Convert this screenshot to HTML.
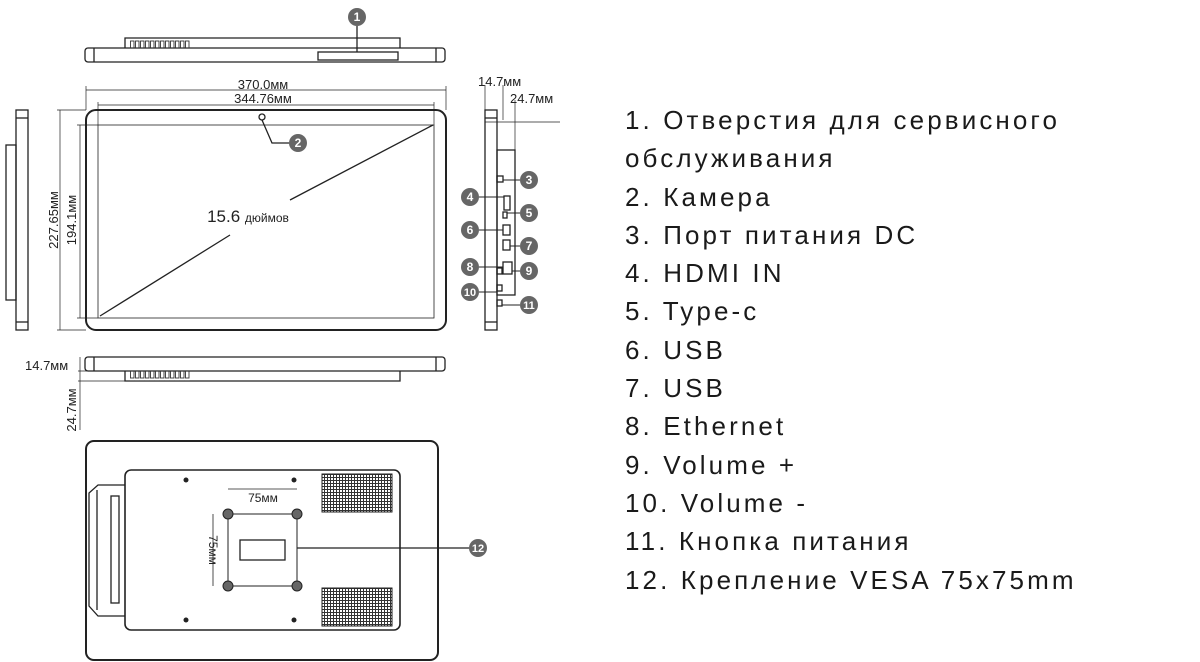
<!DOCTYPE html>
<html><head><meta charset="utf-8"><style>
body{margin:0;background:#fff;width:1200px;height:662px;overflow:hidden;position:relative;font-family:"Liberation Sans",sans-serif}
.list{position:absolute;left:625px;top:101px;font-size:26px;line-height:38.3px;letter-spacing:3.1px;color:#1a1a1a;white-space:nowrap}
</style></head><body>
<svg width="600" height="662" style="position:absolute;left:0;top:0" font-family="Liberation Sans, sans-serif">
<defs>
<pattern id="g" width="3" height="3" patternUnits="userSpaceOnUse"><rect width="3" height="3" fill="#fff"/><path d="M0 0.5H3M0.5 0V3" stroke="#333" stroke-width="1"/></pattern>
<pattern id="d" width="5" height="10" patternUnits="userSpaceOnUse"><rect x="0.5" y="1" width="3.5" height="7" fill="none" stroke="#333" stroke-width="0.9"/></pattern>
</defs>
<g fill="none" stroke="#222" stroke-width="1.3">
<rect x="85" y="48" width="360" height="14" rx="3"/>
<line x1="94" y1="48" x2="94" y2="62"/><line x1="436" y1="48" x2="436" y2="62"/>
<path d="M125 48 V38 H400 V48"/>
<rect x="318" y="52" width="80" height="8"/>
<line x1="357" y1="26" x2="357" y2="52"/>
<rect x="86" y="110" width="360" height="220" rx="10" stroke-width="2"/>
<rect x="98" y="125" width="336" height="193" stroke-width="0.8"/>
<line x1="100" y1="316" x2="230" y2="235"/><line x1="290" y1="200" x2="433" y2="125"/>
<circle cx="262" cy="117" r="3"/>
<path d="M262 120 L272 143 H290"/>
<line x1="86" y1="90" x2="446" y2="90" stroke-width="0.7"/>
<line x1="86" y1="86" x2="86" y2="110" stroke-width="0.7"/><line x1="446" y1="86" x2="446" y2="110" stroke-width="0.7"/>
<line x1="98" y1="105" x2="434" y2="105" stroke-width="0.7"/>
<line x1="98" y1="102" x2="98" y2="125" stroke-width="0.7"/><line x1="434" y1="102" x2="434" y2="125" stroke-width="0.7"/>
<line x1="60" y1="110" x2="60" y2="330" stroke-width="0.7"/>
<line x1="57" y1="110" x2="86" y2="110" stroke-width="0.7"/><line x1="57" y1="330" x2="86" y2="330" stroke-width="0.7"/>
<line x1="80" y1="125" x2="80" y2="318" stroke-width="0.7"/>
<line x1="77" y1="125" x2="98" y2="125" stroke-width="0.7"/><line x1="77" y1="318" x2="98" y2="318" stroke-width="0.7"/>
<rect x="16" y="110" width="12" height="220"/><line x1="16" y1="118" x2="28" y2="118"/><line x1="16" y1="322" x2="28" y2="322"/>
<rect x="6" y="145" width="10" height="155"/>
<rect x="485" y="110" width="12" height="220"/><line x1="485" y1="118" x2="497" y2="118"/><line x1="485" y1="322" x2="497" y2="322"/>
<rect x="497" y="150" width="18" height="145"/>
<line x1="485" y1="85" x2="485" y2="110" stroke-width="0.7"/><line x1="503" y1="85" x2="503" y2="120" stroke-width="0.7"/>
<line x1="515" y1="100" x2="515" y2="150" stroke-width="0.7"/>
<line x1="485" y1="122" x2="560" y2="122" stroke-width="0.7"/>
<rect x="504" y="196" width="6" height="14"/><rect x="503" y="225" width="7" height="10"/><rect x="503" y="240" width="7" height="10"/>
<rect x="503" y="262" width="9" height="12"/><rect x="497" y="176" width="6" height="6"/><rect x="497" y="268" width="5" height="6"/>
<rect x="497" y="285" width="5" height="6"/><rect x="497" y="300" width="5" height="6"/><rect x="503" y="212" width="4" height="6"/>
<g stroke-width="1"><line x1="503" y1="180" x2="520" y2="180"/><line x1="479" y1="197" x2="504" y2="197"/><line x1="507" y1="213" x2="520" y2="213"/>
<line x1="479" y1="230" x2="503" y2="230"/><line x1="510" y1="246" x2="520" y2="246"/><line x1="479" y1="267" x2="503" y2="267"/>
<line x1="512" y1="271" x2="520" y2="271"/><line x1="479" y1="292" x2="497" y2="292"/><line x1="502" y1="305" x2="520" y2="305"/></g>
<rect x="85" y="357" width="360" height="14" rx="3"/>
<line x1="94" y1="357" x2="94" y2="371"/><line x1="436" y1="357" x2="436" y2="371"/>
<path d="M125 371 V381 H400 V371"/>
<line x1="80" y1="357" x2="80" y2="430" stroke-width="0.7"/>
<line x1="78" y1="371" x2="125" y2="371" stroke-width="0.7"/><line x1="78" y1="381" x2="125" y2="381" stroke-width="0.7"/>
<rect x="86" y="441" width="352" height="219" rx="8" stroke-width="2"/>
<rect x="125" y="470" width="275" height="160" rx="6" stroke-width="1.6"/>
<path d="M125 485 H98 L89 493 V606 L98 616 H125"/>
<path d="M97 490 V610"/>
<rect x="111" y="496" width="8" height="107"/>
<rect x="240" y="540" width="45" height="20"/>
<path d="M228 514 H297 V586 H228 Z" stroke-width="1"/>
<line x1="228" y1="489" x2="297" y2="489" stroke-width="0.8"/>
<line x1="213" y1="514" x2="213" y2="586" stroke-width="0.8"/>
<line x1="297" y1="548" x2="470" y2="548"/>
</g>
<rect x="322" y="474" width="70" height="38" fill="url(#g)" stroke="#222"/>
<rect x="322" y="588" width="70" height="38" fill="url(#g)" stroke="#222"/>
<rect x="130" y="40" width="60" height="8" fill="url(#d)"/>
<rect x="130" y="371" width="60" height="10" fill="url(#d)"/>
<g fill="#666" stroke="#222">
<circle cx="228" cy="514" r="5"/><circle cx="297" cy="514" r="5"/><circle cx="228" cy="586" r="5"/><circle cx="297" cy="586" r="5"/>
</g>
<g fill="#222"><circle cx="186" cy="480" r="2.5"/><circle cx="294" cy="480" r="2.5"/><circle cx="186" cy="620" r="2.5"/><circle cx="294" cy="620" r="2.5"/></g>
<g fill="#666">
<circle cx="357" cy="17" r="9"/><circle cx="298" cy="143" r="9"/><circle cx="529" cy="180" r="9"/><circle cx="470" cy="197" r="9"/>
<circle cx="529" cy="213" r="9"/><circle cx="470" cy="230" r="9"/><circle cx="529" cy="246" r="9"/><circle cx="470" cy="267" r="9"/>
<circle cx="529" cy="271" r="9"/><circle cx="470" cy="292" r="9"/><circle cx="529" cy="305" r="9"/><circle cx="478" cy="548" r="9"/>
</g>
<g fill="#fff" font-size="12" font-weight="bold" text-anchor="middle">
<text x="357" y="21">1</text><text x="298" y="147">2</text><text x="529" y="184">3</text><text x="470" y="201">4</text>
<text x="529" y="217">5</text><text x="470" y="234">6</text><text x="529" y="250">7</text><text x="470" y="271">8</text>
<text x="529" y="275">9</text><text x="470" y="296" font-size="11">10</text><text x="529" y="309" font-size="11">11</text><text x="478" y="552" font-size="11">12</text>
</g>
<g fill="#222" font-size="13">
<text x="263" y="89" text-anchor="middle">370.0мм</text>
<text x="263" y="103" text-anchor="middle">344.76мм</text>
<text x="248" y="222" font-size="17" text-anchor="middle">15.6 <tspan font-size="12">дюймов</tspan></text>
<text transform="translate(58,220) rotate(-90)" text-anchor="middle">227.65мм</text>
<text transform="translate(76,220) rotate(-90)" text-anchor="middle">194.1мм</text>
<text x="478" y="86">14.7мм</text><text x="510" y="103">24.7мм</text>
<text x="25" y="370">14.7мм</text>
<text transform="translate(76,410) rotate(-90)" text-anchor="middle">24.7мм</text>
<text x="263" y="502" text-anchor="middle" font-size="12">75мм</text>
<text transform="translate(209,550) rotate(90)" text-anchor="middle" font-size="12">75мм</text>
</g>
</svg>
<div class="list">1. Отверстия для сервисного<br>обслуживания<br>2. Камера<br>3. Порт питания DC<br>4. HDMI IN<br>5. Type-c<br>6. USB<br>7. USB<br>8. Ethernet<br>9. Volume +<br>10. Volume -<br>11. Кнопка питания<br>12. Крепление VESA 75x75mm</div>
</body></html>
